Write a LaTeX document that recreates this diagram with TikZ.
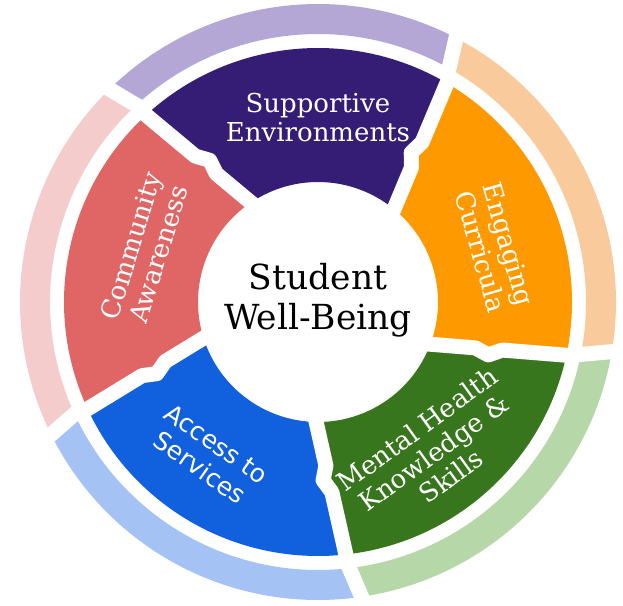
\documentclass[tikz,border=0pt]{standalone}
\usepackage{fontspec}
\setmainfont{DejaVu Serif}
\setsansfont{DejaVu Sans}
\usepackage{xcolor}
\usetikzlibrary{calc}

\definecolor{darkpurple}{HTML}{351C75}
\definecolor{lightpurple}{HTML}{B4A7D6}
\definecolor{brightorange}{HTML}{FF9900}
\definecolor{lightorange}{HTML}{F9CB9C}
\definecolor{darkgreen}{HTML}{38761D}
\definecolor{lightgreen}{HTML}{B6D7A8}
\definecolor{brightblue}{HTML}{1160DD}
\definecolor{lightblue}{HTML}{A4C2F4}
\definecolor{lightred}{HTML}{E06666}
\definecolor{lightpink}{HTML}{F4CCCC}

\begin{document}
\begin{tikzpicture}[x=1pt, y=1pt,
    gapline/.style={white, line width=15pt, line join=round},
    ringarc/.style={line width=30pt},
    seglabel/.style={white, align=center, font=\fontsize{26}{29}\selectfont}]
    \useasboundingbox (0,0) rectangle (623,605);
    \coordinate (C) at (318,303);

    % Outer light ring
    \draw[ringarc, lightpurple] ($(C)+(61.5:283)$) arc[start angle=61.5, end angle=133.5, radius=283];
    \draw[ringarc, lightorange] ($(C)+(-10.5:283)$) arc[start angle=-10.5, end angle=61.5, radius=283];
    \draw[ringarc, lightgreen] ($(C)+(-82.5:283)$) arc[start angle=-82.5, end angle=-10.5, radius=283];
    \draw[ringarc, lightblue] ($(C)+(-154.5:283)$) arc[start angle=-154.5, end angle=-82.5, radius=283];
    \draw[ringarc, lightpink] ($(C)+(133.5:283)$) arc[start angle=133.5, end angle=205.5, radius=283];
    \foreach \a in {133.5, 61.5, -10.5, -82.5, -154.5}
        \draw[gapline] ($(C)+({\a-1.3}:260)$) -- ($(C)+({\a+1.3}:306)$);

    % Inner segments (outer/inner angle of each end)
    \foreach \oa/\ia/\ob/\ib/\col in {132.6/124/59.5/50.7/darkpurple,
        59.5/50.7/-12.1/-20.6/brightorange, -12.1/-20.6/-83.7/-90.9/darkgreen,
        -83.7/-90.9/-155.1/-162.5/brightblue, -155.1/-162.5/-227.4/-236/lightred}
        \fill[\col] ($(C)+(\oa:254)$) arc[start angle=\oa, end angle=\ob, radius=254]
            -- ($(C)+(\ib:120)$) arc[start angle=\ib, end angle=\ia, radius=120] -- cycle;

    % Gaps with the small arrow tabs
    \foreach \ia/\oa/\s [count=\n] in {124/132.6/270, 50.7/59.5/90, -20.6/-12.1/270,
        -90.9/-83.7/270, -162.5/-155.1/90}{
        \coordinate (gin\n) at ($(C)+(\ia:120)$);
        \coordinate (gout\n) at ($(C)+(\oa:254)$);
        \draw[gapline] ($(gin\n)!-0.1!(gout\n)$) -- ($(gin\n)!0.33!(gout\n)$)
            -- ($(gin\n)!0.43!(gout\n)!6pt!\s:(gout\n)$) -- ($(gin\n)!0.53!(gout\n)$)
            -- ($(gin\n)!1.06!(gout\n)$);
    }

    % Hub
    \fill[white] (C) circle[radius=119];
    \node[align=center, font=\fontsize{34.5}{40}\selectfont] (hub) at ($(C)+(0,2)$) {Student\\Well-Being};

    % Segment labels
    \node[seglabel] (supp) at ($(C)+(90:184)$) {Supportive\\Environments};
    \node[seglabel, rotate=-74] (curr) at ($(C)+(17:185)$) {Engaging\\Curricula};
    \node[seglabel, rotate=36] (ment) at ($(C)+(-52.4:190)$) {Mental Health\\Knowledge \&\\Skills};
    \node[seglabel, font=\sffamily\fontsize{25}{29}\selectfont, rotate=-35] (serv) at ($(C)+(234.5:189)$) {Access to\\Services};
    \node[seglabel, rotate=73] (comm) at ($(C)+(163.3:181)$) {Community\\Awareness};
\end{tikzpicture}
\end{document}
